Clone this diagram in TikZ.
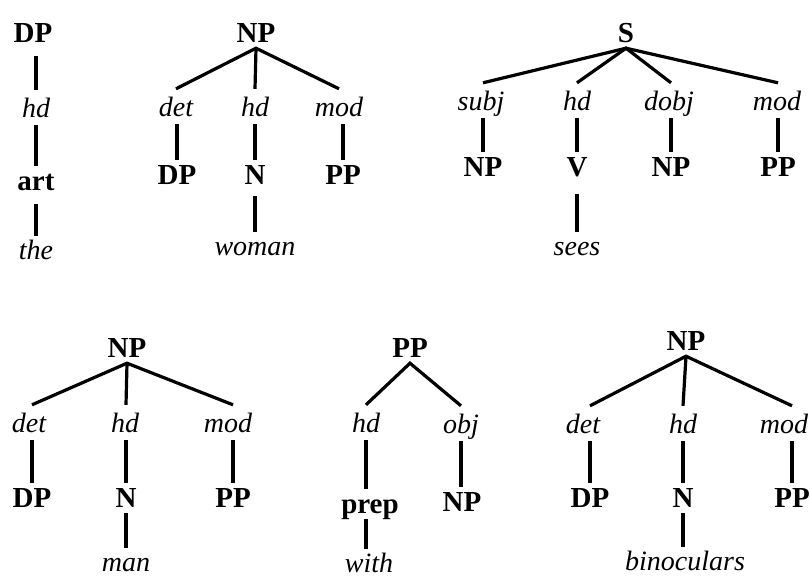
\documentclass[tikz,border=0pt]{standalone}
\usepackage{fontspec}
\setmainfont{Liberation Serif}
\tikzset{
  cat/.style={font=\fontsize{29}{32}\selectfont\bfseries, anchor=base,
    text height=18pt, text depth=0pt, inner xsep=1pt, inner ysep=6pt},
  rel/.style={font=\fontsize{28}{31}\selectfont\itshape, anchor=base,
    text height=19pt, text depth=0pt, inner xsep=1pt, inner ysep=8pt},
  mot/.style={font=\fontsize{28}{31}\selectfont\itshape, anchor=base,
    text height=19pt, text depth=0pt, inner xsep=1pt, inner ysep=4pt},
  trait/.style={line width=3.2pt}
}
\begin{document}
\begin{tikzpicture}[x=1pt, y=-1pt]
	\useasboundingbox (0,0) rectangle (810,578);
	% arbre DP
	\node[cat] (DPa) at (33,42) {DP};
	\node[rel] (hdA) at (36,117) {hd};
	\node[cat] (art) at (36,190) {art};
	\node[mot] (the) at (36,259) {the};
	\draw[trait, shorten <=8pt] (DPa.south -| hdA) -- (hdA.north);
	\draw[trait] (hdA.south) -- (art.north);
	\draw[trait, shorten <=8pt] (art.south) -- (the.north);
	% arbre NP (woman)
	\node[cat] (NPb) at (256,42) {NP};
	\node[rel] (detB) at (176,116) {det};
	\node[rel] (hdB) at (255,116) {hd};
	\node[rel] (modB) at (339,116) {mod};
	\node[cat] (DPb) at (177,184) {DP};
	\node[cat] (Nb) at (255,184) {N};
	\node[cat] (PPb) at (343,184) {PP};
	\node[mot] (woman) at (255,255) {woman};
	\draw[trait] (detB.north) -- (NPb.south) -- (modB.north);
	\draw[trait] (NPb.south) -- (hdB.north);
	\draw[trait] (detB.south -| DPb) -- (DPb.north);
	\draw[trait] (hdB.south) -- (Nb.north);
	\draw[trait] (modB.south -| PPb) -- (PPb.north);
	\draw[trait, shorten <=6pt] (Nb.south) -- (woman.north);
	% arbre S
	\node[cat] (S) at (626,42) {S};
	\node[rel] (subjC) at (481,110) {subj};
	\node[rel] (hdC) at (577,110) {hd};
	\node[rel] (dobjC) at (669,110) {dobj};
	\node[rel] (modC) at (777,110) {mod};
	\node[cat] (NPc) at (483,176) {NP};
	\node[cat] (V) at (577,176) {V};
	\node[cat] (NPcc) at (671,176) {NP};
	\node[cat] (PPc) at (778,176) {PP};
	\node[mot] (sees) at (577,255) {sees};
	\draw[trait] (subjC.north -| NPc) -- (S.south) -- (modC.north -| PPc);
	\draw[trait] (hdC.north) -- (S.south) -- (dobjC.north -| NPcc);
	\draw[trait] (subjC.south -| NPc) -- (NPc.north);
	\draw[trait] (hdC.south) -- (V.north);
	\draw[trait] (dobjC.south -| NPcc) -- (NPcc.north);
	\draw[trait] (modC.south -| PPc) -- (PPc.north);
	\draw[trait, shorten <=12pt] (V.south) -- (sees.north);
	% arbre NP (man)
	\node[cat] (NPd) at (127,357) {NP};
	\node[rel] (detD) at (29,432) {det};
	\node[rel] (hdD) at (125,432) {hd};
	\node[rel] (modD) at (228,432) {mod};
	\node[cat] (DPd) at (32,507) {DP};
	\node[cat] (Nd) at (126,507) {N};
	\node[cat] (PPd) at (233,507) {PP};
	\node[mot] (man) at (126,571) {man};
	\draw[trait] (detD.north -| DPd) -- (NPd.south) -- (modD.north -| PPd);
	\draw[trait] (NPd.south) -- (hdD.north -| Nd);
	\draw[trait] (detD.south -| DPd) -- (DPd.north);
	\draw[trait] (hdD.south -| Nd) -- (Nd.north);
	\draw[trait] (modD.south -| PPd) -- (PPd.north);
	\draw[trait] (Nd.south) -- (man.north);
	% arbre PP
	\node[cat] (PPe) at (410,357) {PP};
	\node[rel] (hdE) at (366,432) {hd};
	\node[rel] (objE) at (461,433) {obj};
	\node[cat] (prep) at (370,513) {prep};
	\node[cat] (NPe) at (462,511) {NP};
	\node[mot] (with) at (369,572) {with};
	\draw[trait] (hdE.north) -- (PPe.south) -- (objE.north);
	\draw[trait] (hdE.south) -- (hdE.south |- prep.north);
	\draw[trait] (objE.south) -- (objE.south |- NPe.north);
	\draw[trait] (prep.south -| hdE) -- (with.north -| hdE);
	% arbre NP (binoculars)
	\node[cat] (NPf) at (686,350) {NP};
	\node[rel] (detF) at (583,433) {det};
	\node[rel] (hdF) at (683,433) {hd};
	\node[rel] (modF) at (784,433) {mod};
	\node[cat] (DPf) at (590,507) {DP};
	\node[cat] (Nf) at (683,507) {N};
	\node[cat] (PPf) at (792,507) {PP};
	\node[mot] (binoculars) at (685,570) {binoculars};
	\draw[trait] (detF.north -| DPf) -- (NPf.south) -- (modF.north -| PPf);
	\draw[trait] (NPf.south) -- (hdF.north);
	\draw[trait] (detF.south -| DPf) -- (DPf.north);
	\draw[trait] (hdF.south) -- (Nf.north);
	\draw[trait] (modF.south -| PPf) -- (PPf.north);
	\draw[trait] (Nf.south) -- (Nf.south |- binoculars.north);
\end{tikzpicture}
\end{document}
